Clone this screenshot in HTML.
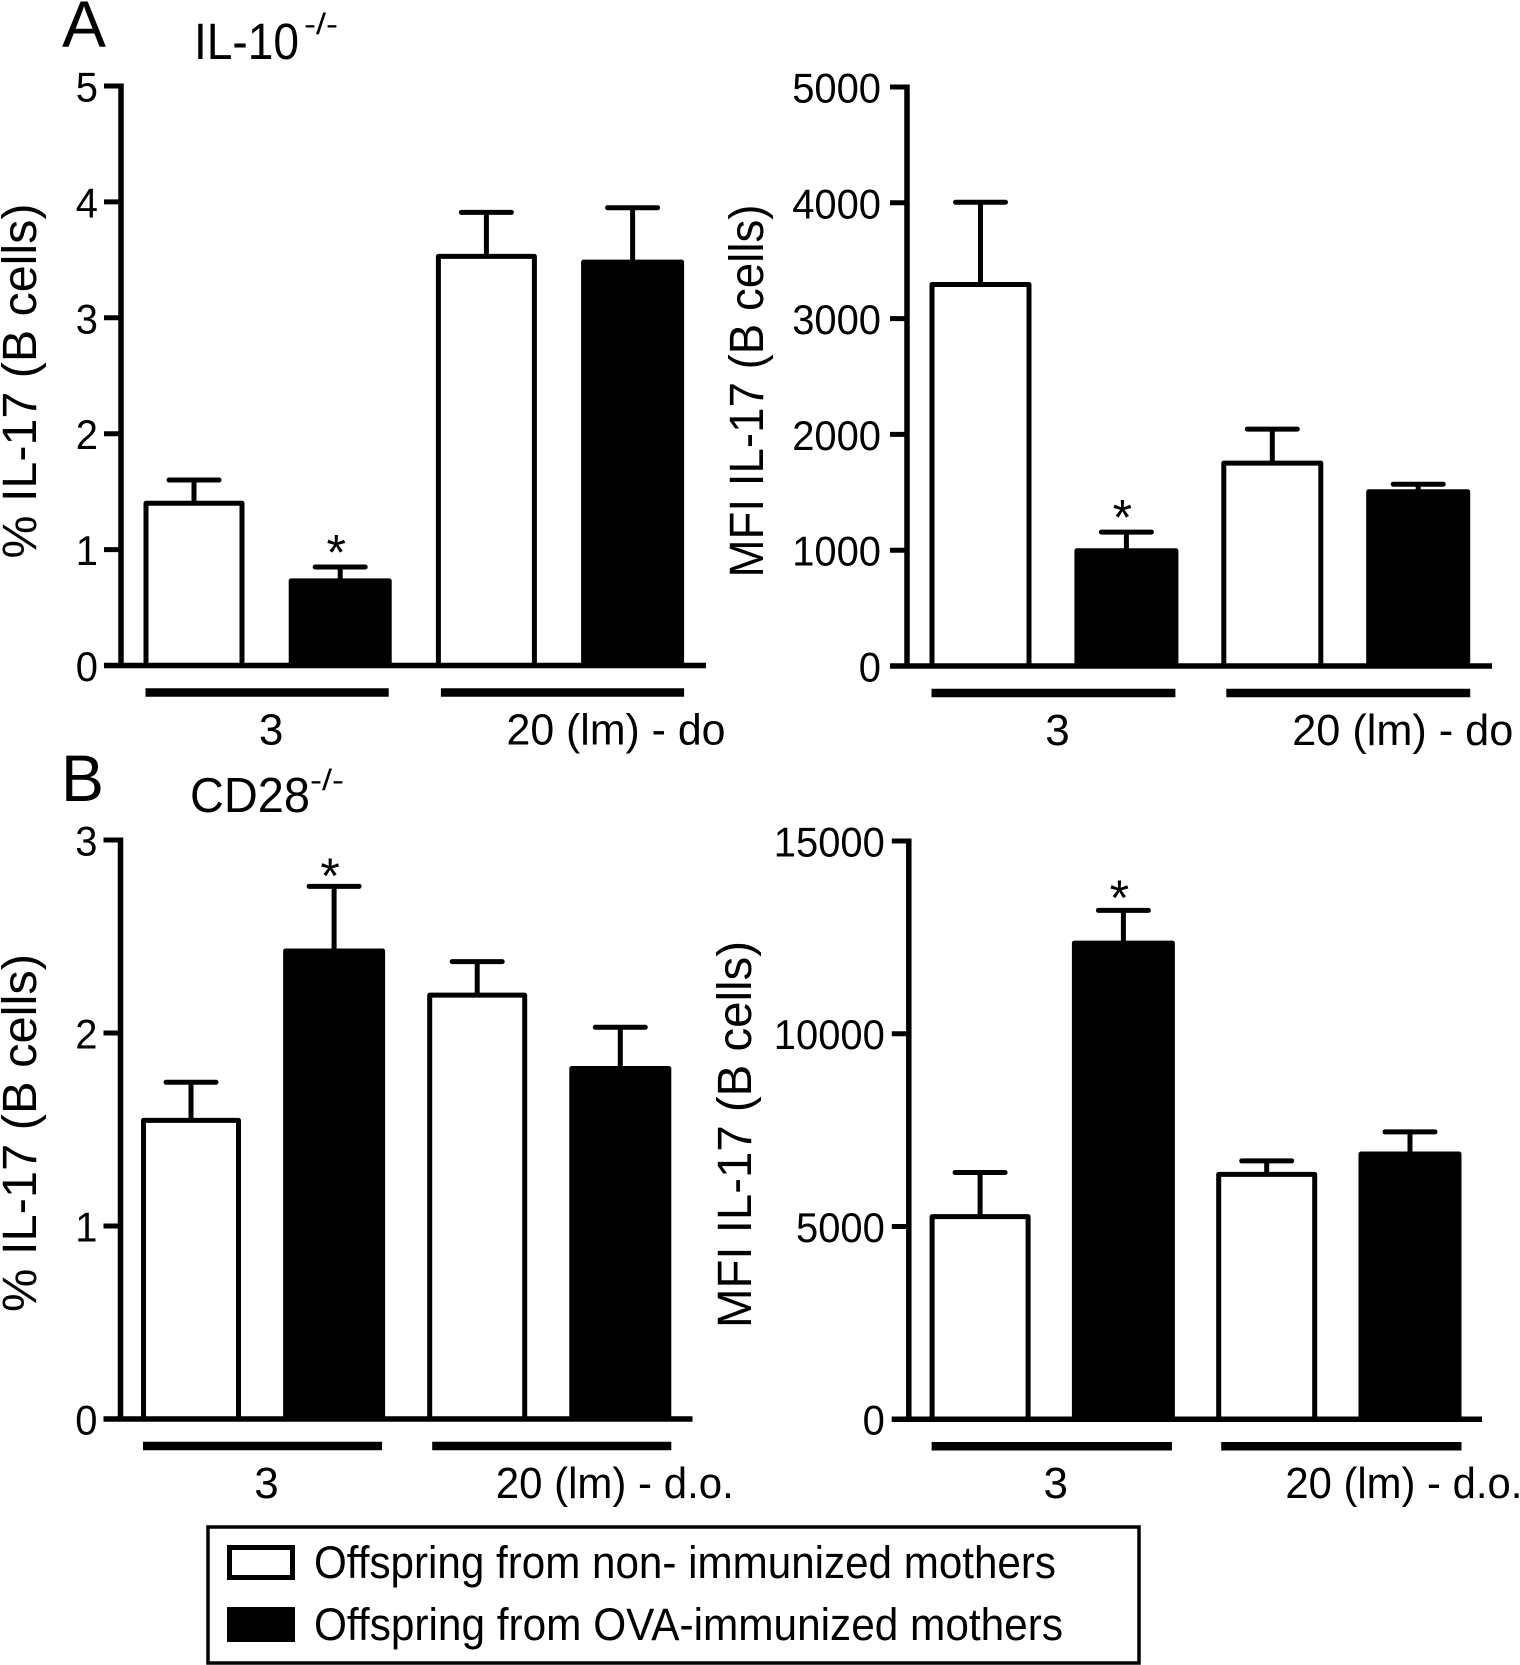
<!DOCTYPE html>
<html lang="en">
<head>
<meta charset="utf-8">
<title>IL-17 in B cells</title>
<style>
html,body{margin:0;padding:0;background:#fff;}
svg{display:block;font-family:"Liberation Sans",Arial,sans-serif;fill:#000;}
</style>
</head>
<body>
<svg id="figure" xmlns="http://www.w3.org/2000/svg" width="1520" height="1665" viewBox="0 0 1520 1665">
  <rect x="0" y="0" width="1520" height="1665" fill="#fff"/>
  <text x="62" y="47" font-size="66" textLength="44" lengthAdjust="spacingAndGlyphs">A</text>
  <text x="194" y="59" font-size="51" textLength="105" lengthAdjust="spacingAndGlyphs">IL-10</text>
  <text x="304" y="34" font-size="30" textLength="34" lengthAdjust="spacingAndGlyphs">-/-</text>
  <text x="61" y="801" font-size="66" textLength="43" lengthAdjust="spacingAndGlyphs">B</text>
  <text x="190" y="812" font-size="49" textLength="120" lengthAdjust="spacingAndGlyphs">CD28</text>
  <text x="310" y="790" font-size="30" textLength="34" lengthAdjust="spacingAndGlyphs">-/-</text>
  <g>
    <rect x="208" y="1527" width="931" height="136" fill="#fff" stroke="#000" stroke-width="3.5"/>
    <rect x="229.5" y="1547.5" width="63" height="30" fill="#fff" stroke="#000" stroke-width="5"/>
    <text x="314" y="1578" font-size="45" textLength="742" lengthAdjust="spacingAndGlyphs">Offspring from non- immunized mothers</text>
    <rect x="227" y="1607" width="68" height="35" fill="#000"/>
    <text x="314" y="1640" font-size="45" textLength="749" lengthAdjust="spacingAndGlyphs">Offspring from OVA-immunized mothers</text>
  </g>
</svg>
<script>
// Tick labels
const aLeftTicks = [0, 1, 2, 3, 4, 5];
const aRightTicks = [0, 1000, 2000, 3000, 4000, 5000];
const bLeftTicks = [0, 1, 2, 3];
const bRightTicks = [0, 5000, 10000, 15000];

// Group categories
const aCategories = ["3", "20 (lm) - do"];
const bCategories = ["3", "20 (lm) - d.o."];

// Panel A, % IL-17
const aLeftNonImmunized = [1.40, 3.53];
const aLeftOva = [0.73, 3.48];
const aLeftNonImmunizedError = [1.60, 3.91];
const aLeftOvaError = [0.85, 3.95];

// Panel A, MFI IL-17
const aRightNonImmunized = [3294, 1752];
const aRightOva = [995, 1505];
const aRightNonImmunizedError = [4005, 2046];
const aRightOvaError = [1156, 1570];

// Panel B, % IL-17
const bLeftNonImmunized = [1.547, 2.196];
const bLeftOva = [2.425, 1.816];
const bLeftNonImmunizedError = [1.745, 2.37];
const bLeftOvaError = [2.76, 2.03];

// Panel B, MFI IL-17
const bRightNonImmunized = [5255, 6350];
const bRightOva = [12350, 6880];
const bRightNonImmunizedError = [6400, 6700];
const bRightOvaError = [13200, 7455];

const NS = "http://www.w3.org/2000/svg";
const figure = document.getElementById("figure");

function make(parent, tag, attrs, content) {
  const el = document.createElementNS(NS, tag);
  for (const k in attrs) el.setAttribute(k, attrs[k]);
  if (content !== undefined) el.textContent = content;
  parent.appendChild(el);
  return el;
}

function drawPanel(p) {
  const sw = 5;
  const top = p.ticks[p.ticks.length - 1];
  const y = v => p.y0 - (v / top) * (p.y0 - p.yTop);
  const barLeft = i => p.firstBar + i * p.step;

  const g = make(figure, "g", {});
  
  

  const yTitle = make(g, "text", {
    x: 0, y: 0, "font-size": 48, "text-anchor": "middle",
    transform: "translate(" + p.titleX + " " + p.titleY + ") rotate(-90)",
    textLength: p.titleLen, lengthAdjust: "spacingAndGlyphs"
  }, p.title);
  
  

  p.ticks.forEach(t => {
    const tick = make(g, "line", { x1: p.axisX - 17, x2: p.axisX, y1: y(t), y2: y(t), stroke: "#000", "stroke-width": sw });
    
    
    const label = make(g, "text", {
      x: p.axisX - 21 - p.tickDx, y: y(t) + 15.5, "font-size": 42, "text-anchor": "end",
      textLength: String(t).length * 22.2, lengthAdjust: "spacingAndGlyphs"
    }, String(t));
    
    
  });

  const series = [
    { key: "non-immunized", vals: p.white, errs: p.whiteErr, fill: "#fff", offset: 0, grow: 0 },
    { key: "ova-immunized", vals: p.black, errs: p.blackErr, fill: "#000", offset: 1, grow: 1 }
  ];
  series.forEach(s => {
    s.vals.forEach((v, gi) => {
      const left = barLeft(gi * 2 + s.offset);
      const cx = left + p.barW / 2;
      const stem = make(g, "line", { x1: cx, x2: cx, y1: y(s.errs[gi]), y2: y(v), stroke: "#000", "stroke-width": sw });
      
      
      const cap = make(g, "line", { x1: cx - 25, x2: cx + 25, y1: y(s.errs[gi]), y2: y(s.errs[gi]), stroke: "#000", "stroke-width": sw, "stroke-linecap": "round" });
      
      
      const bar = make(g, "rect", {
        x: left + sw / 2 - s.grow, y: y(v), width: p.barW - sw + 2 * s.grow, height: p.y0 - y(v),
        fill: s.fill, stroke: "#000", "stroke-width": sw, "stroke-linejoin": "round"
      });
      
      
    });
  });

  const yAxis = make(g, "line", { x1: p.axisX, x2: p.axisX, y1: y(top) - 2.5, y2: p.y0, stroke: "#000", "stroke-width": 5.5 });
  
  
  const xAxis = make(g, "line", { x1: p.axisX - 17, x2: p.axisEnd, y1: p.y0, y2: p.y0, stroke: "#000", "stroke-width": 5.5 });
  
  

  p.categories.forEach((c, gi) => {
    const shift = gi === 0 ? 0 : 3;
    const x1 = barLeft(gi * 2) + 2 + shift;
    const x2 = barLeft(gi * 2 + 1) + p.barW - 2 + shift;
    const mid = (x1 + x2) / 2;
    const line = make(g, "line", { x1: x1, x2: x2, y1: p.y0 + 27, y2: p.y0 + 27, stroke: "#000", "stroke-width": 8.5 });
    
    
    const attrs = gi === 0
      ? { x: mid + 4, y: p.y0 + 79, "font-size": 44, "text-anchor": "middle" }
      : { x: mid - 56, y: p.y0 + 79, "font-size": 44, textLength: p.longLabelLen, lengthAdjust: "spacingAndGlyphs" };
    const label = make(g, "text", attrs, c);
    
    
  });

  const sx = barLeft(p.starBar) + p.barW / 2 - 4;
  const starErr = p.starBar === 1 ? p.blackErr[0] : p.whiteErr[0];
  const star = make(g, "text", { x: sx, y: y(starErr) + p.starDy, "font-size": 50, "text-anchor": "middle" }, "*");
  
  
}

drawPanel({
  name: "panel-a-percent-chart", title: "% IL-17 (B cells)", titleX: 36, titleY: 381, titleLen: 355,
  ticks: aLeftTicks, categories: aCategories, longLabelLen: 219, tickDx: 2,
  white: aLeftNonImmunized, black: aLeftOva, whiteErr: aLeftNonImmunizedError, blackErr: aLeftOvaError,
  axisX: 121, axisEnd: 706, y0: 665.5, yTop: 86, firstBar: 143.5, step: 146.2, barW: 101, starBar: 1, starDy: 2.5
});
drawPanel({
  name: "panel-a-mfi-chart", title: "MFI IL-17 (B cells)", titleX: 763, titleY: 391, titleLen: 373,
  ticks: aRightTicks, categories: aCategories, longLabelLen: 221, tickDx: 5,
  white: aRightNonImmunized, black: aRightOva, whiteErr: aRightNonImmunizedError, blackErr: aRightOvaError,
  axisX: 907, axisEnd: 1492, y0: 666, yTop: 87, firstBar: 929.5, step: 145.9, barW: 102, starBar: 1, starDy: 2.5
});
drawPanel({
  name: "panel-b-percent-chart", title: "% IL-17 (B cells)", titleX: 36, titleY: 1133, titleLen: 358,
  ticks: bLeftTicks, categories: bCategories, longLabelLen: 238, tickDx: 2,
  white: bLeftNonImmunized, black: bLeftOva, whiteErr: bLeftNonImmunizedError, blackErr: bLeftOvaError,
  axisX: 120.5, axisEnd: 692.5, y0: 1419, yTop: 840, firstBar: 141, step: 143.1, barW: 100, starBar: 1, starDy: 6.6
});
drawPanel({
  name: "panel-b-mfi-chart", title: "MFI IL-17 (B cells)", titleX: 751, titleY: 1134.5, titleLen: 387,
  ticks: bRightTicks, categories: bCategories, longLabelLen: 237, tickDx: 3,
  white: bRightNonImmunized, black: bRightOva, whiteErr: bRightNonImmunizedError, blackErr: bRightOvaError,
  axisX: 908.8, axisEnd: 1482, y0: 1419.2, yTop: 841, firstBar: 929.6, step: 143.3, barW: 101, starBar: 1, starDy: 4.6
});
</script>
</body>
</html>
